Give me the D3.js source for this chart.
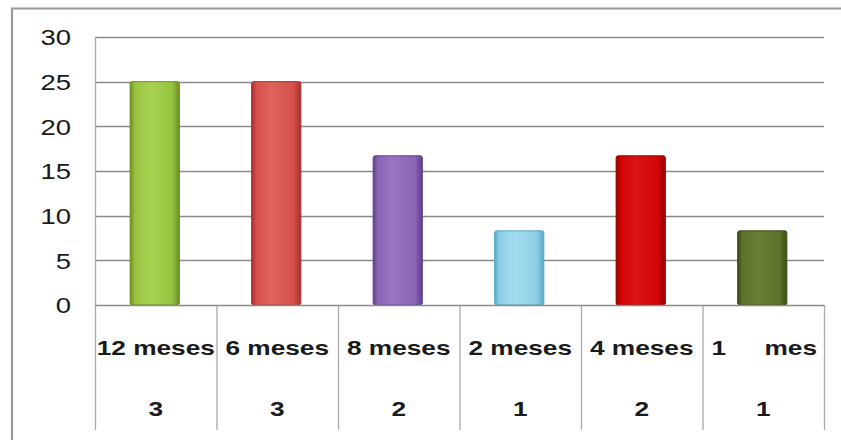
<!DOCTYPE html>
<html>
<head>
<meta charset="utf-8">
<script src="https://cdn.jsdelivr.net/npm/d3@7"></script>
<style>
  html, body { margin: 0; padding: 0; background: #ffffff; }
  svg { display: block; }
  text { font-family: "Liberation Sans", Arial, sans-serif; fill: #1a1a1a; }
</style>
</head>
<body>
<svg id="chart" width="841" height="440"></svg>
<script>
// Duration categories, share of cases (%) and number of cases
const categories = ["12 meses", "6 meses", "8 meses", "2 meses", "4 meses", "1 mes"];
const percentages = [25, 25, 16.7, 8.3, 16.7, 8.3];
const counts = [3, 3, 2, 1, 2, 1];
const yTicks = [0, 5, 10, 15, 20, 25, 30];
const barColors = [
  { base: "#97c43f", light: "#a8d251", dark: "#6b8f22" },
  { base: "#d6514c", light: "#df625d", dark: "#a8302c" },
  { base: "#8a64b6", light: "#9875c4", dark: "#5f418a" },
  { base: "#8ed0e8", light: "#a3dcf0", dark: "#5aa8c4" },
  { base: "#d20404", light: "#dc1414", dark: "#9a0000" },
  { base: "#5d722b", light: "#687e33", dark: "#3c4d17" }
];

const svg = d3.select("#chart");
const stretch = 1.25;           // horizontal stretch applied to every label
const plot = { left: 95, right: 824, top: 37, bottom: 305 };
const tableBottom = 430;

const x = d3.scaleBand().domain(categories).range([plot.left, plot.right]).padding(0);
const y = d3.scaleLinear().domain([0, 30]).range([plot.bottom, plot.top]);
const barW = x.bandwidth() * 0.405;

// Outer frame
svg.append("path")
  .attr("d", `M12,441 L12,8.5 L842,8.5`)
  .attr("fill", "none").attr("stroke", "#9a9a9a").attr("stroke-width", 2.2);

// Gradients for the bars
const defs = svg.append("defs");
barColors.forEach((c, i) => {
  const g = defs.append("linearGradient").attr("id", "bar" + i)
    .attr("x1", "0").attr("x2", "1").attr("y1", "0").attr("y2", "0");
  g.append("stop").attr("offset", "0%").attr("stop-color", c.dark);
  g.append("stop").attr("offset", "10%").attr("stop-color", c.base);
  g.append("stop").attr("offset", "40%").attr("stop-color", c.light);
  g.append("stop").attr("offset", "85%").attr("stop-color", c.base);
  g.append("stop").attr("offset", "100%").attr("stop-color", c.dark);
});

// Horizontal gridlines
svg.append("g").selectAll("line").data(yTicks.filter(d => d > 0)).join("line")
  .attr("x1", plot.left).attr("x2", plot.right)
  .attr("y1", d => Math.round(y(d)) + 0.5).attr("y2", d => Math.round(y(d)) + 0.5)
  .attr("stroke", "#8a8a8a").attr("stroke-width", 1.4);

// Value axis line and table column rules
svg.append("line")
  .attr("x1", plot.left + 0.5).attr("x2", plot.left + 0.5)
  .attr("y1", plot.top).attr("y2", tableBottom)
  .attr("stroke", "#a8a8a8").attr("stroke-width", 1.3);
svg.append("g").selectAll("line").data(categories).join("line")
  .attr("x1", d => x(d) + x.bandwidth() + 0.5).attr("x2", d => x(d) + x.bandwidth() + 0.5)
  .attr("y1", plot.bottom).attr("y2", tableBottom)
  .attr("stroke", "#a8a8a8").attr("stroke-width", 1.3);

// Bars
svg.append("g").selectAll("rect").data(categories).join("rect")
  .attr("x", d => x(d) + x.bandwidth() / 2 - barW / 2 - 1)
  .attr("width", barW)
  .attr("y", (d, i) => y(percentages[i]))
  .attr("height", (d, i) => y(0) - y(percentages[i]))
  .attr("rx", 2)
  .attr("fill", (d, i) => `url(#bar${i})`)
  .attr("stroke", (d, i) => barColors[i].dark).attr("stroke-width", 1);

// Category axis line (zero line)
svg.append("line")
  .attr("x1", plot.left).attr("x2", plot.right)
  .attr("y1", plot.bottom + 0.5).attr("y2", plot.bottom + 0.5)
  .attr("stroke", "#8a8a8a").attr("stroke-width", 1.4);

// Value axis tick labels
const yAxis = d3.axisLeft(y).tickValues(yTicks).tickSize(0).tickPadding(0);
const yg = svg.append("g").call(yAxis);
yg.select(".domain").remove();
yg.selectAll(".tick text").remove();
yg.selectAll(".tick").append("g")
  .attr("transform", `translate(${71},0) scale(${stretch},1)`)
  .append("text")
  .attr("text-anchor", "end").attr("dy", "0.36em")
  .style("font-size", "22px")
  .text(d => d);

// Table row 1: category labels
const row1 = svg.append("g").selectAll("g").data(categories).join("g")
  .attr("transform", d => `translate(${x(d) + x.bandwidth() / 2},${347}) scale(${stretch},1)`);
row1.append("text")
  .attr("text-anchor", "middle").attr("dy", "0.36em")
  .style("font-size", "21px").style("font-weight", "bold")
  .each(function (d) {
    const t = d3.select(this);
    const parts = d.split(" ");
    if (d === "1 mes") {
      // distributed across the cell
      const half = x.bandwidth() / 2 / stretch;
      t.attr("text-anchor", "start");
      t.append("tspan").attr("x", -half + 9 / stretch).text(parts[0] + " ");
      t.append("tspan").attr("x", half - 7 / stretch).attr("text-anchor", "end").text(parts[1]);
    } else {
      t.text(d);
    }
  });

// Table row 2: counts
svg.append("g").selectAll("g").data(categories).join("g")
  .attr("transform", d => `translate(${x(d) + x.bandwidth() / 2},${408.5}) scale(${stretch},1)`)
  .append("text")
  .attr("text-anchor", "middle").attr("dy", "0.36em")
  .style("font-size", "21px").style("font-weight", "bold")
  .text((d, i) => counts[i]);
</script>
</body>
</html>
